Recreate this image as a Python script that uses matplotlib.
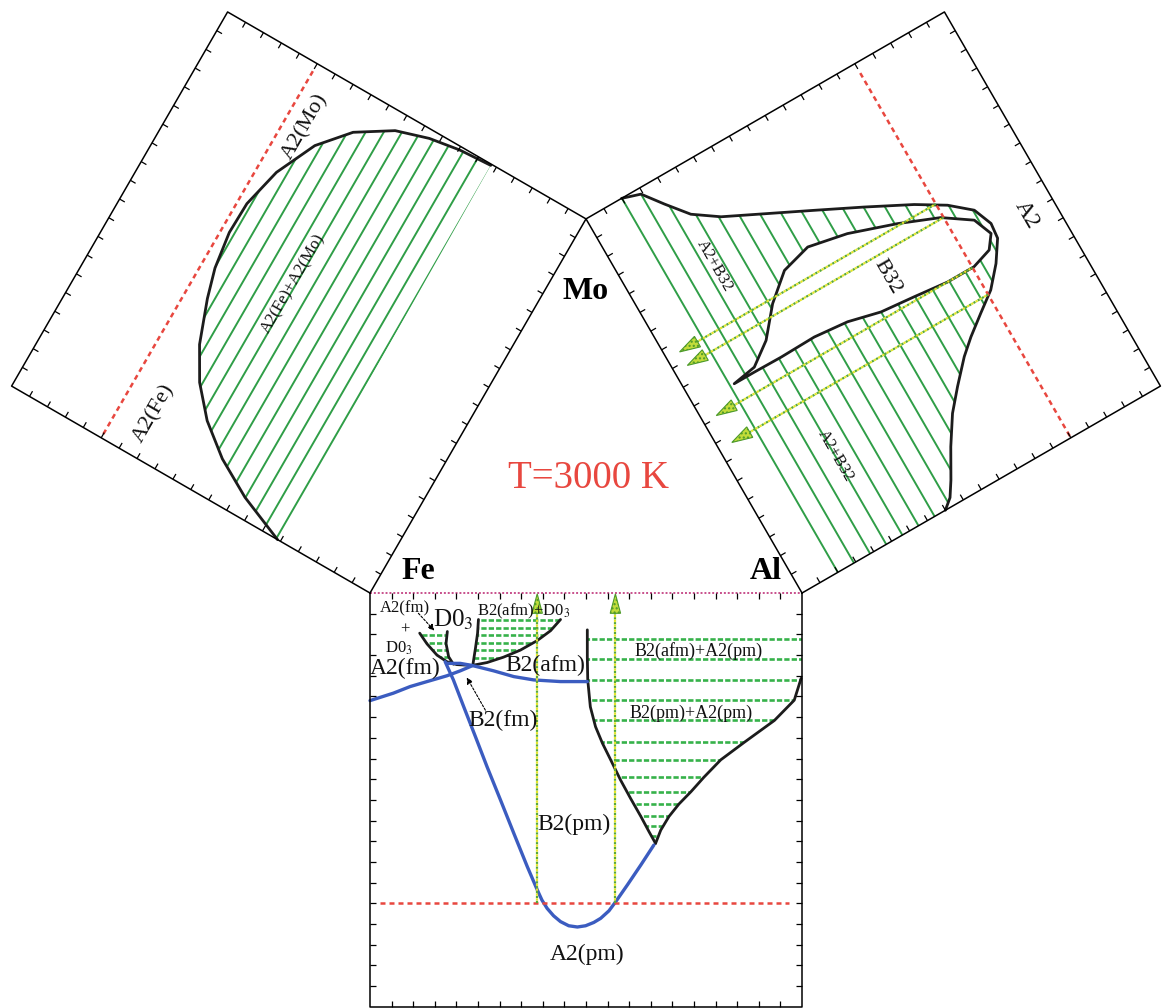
import numpy as np
import matplotlib.pyplot as plt
from matplotlib.transforms import Affine2D
from matplotlib.patches import Polygon
from matplotlib.collections import LineCollection

plt.rcParams['font.family'] = ['Liberation Serif', 'DejaVu Serif']
plt.rcParams['mathtext.fontset'] = 'stix'

# Each binary section: c = fraction along the triangle side, t = fraction of the T axis
# (T axis 0-4000 K, pointing away from the triangle). Isotherm of the section: 3000 K.
T_ISO = 0.75

# ---------- Fe-Al (bottom), c = x(Al) ----------
feal_fm_c = [0.0, 0.054, 0.093, 0.132, 0.178, 0.209, 0.236]
feal_fm_t = [0.260, 0.242, 0.226, 0.214, 0.200, 0.188, 0.176]
feal_afm_c = [0.179, 0.209, 0.236, 0.286, 0.333, 0.379, 0.441, 0.503]
feal_afm_t = [0.170, 0.170, 0.175, 0.188, 0.202, 0.210, 0.214, 0.214]
feal_ord_c = [0.174, 0.193, 0.217, 0.244, 0.271, 0.302, 0.333, 0.364, 0.387, 0.398, 0.410,
              0.425, 0.441, 0.460, 0.480, 0.499, 0.518, 0.534, 0.553, 0.568, 0.596, 0.627, 0.657]
feal_ord_t = [0.166, 0.210, 0.275, 0.347, 0.420, 0.500, 0.581, 0.661, 0.717, 0.742, 0.762,
              0.780, 0.794, 0.804, 0.807, 0.804, 0.796, 0.786, 0.768, 0.747, 0.705, 0.657, 0.609]
feal_d03_c = [0.115, 0.132, 0.155, 0.178, 0.201, 0.236, 0.271, 0.309, 0.348, 0.387, 0.418, 0.441]
feal_d03_t = [0.097, 0.123, 0.150, 0.166, 0.173, 0.175, 0.168, 0.155, 0.138, 0.115, 0.091, 0.064]
feal_d03lo_c = [0.179, 0.176, 0.182, 0.193]
feal_d03lo_t = [0.093, 0.122, 0.154, 0.172]
feal_d03hi_c = [0.251, 0.249, 0.244, 0.238]
feal_d03hi_t = [0.064, 0.097, 0.134, 0.174]
feal_b2_c = [0.503, 0.503, 0.504, 0.510, 0.522, 0.538, 0.557, 0.580, 0.603, 0.627, 0.646, 0.661]
feal_b2_t = [0.089, 0.154, 0.210, 0.275, 0.323, 0.363, 0.403, 0.452, 0.496, 0.540, 0.577, 0.605]
feal_a2_c = [0.998, 0.982, 0.936, 0.866, 0.812, 0.773, 0.743, 0.715, 0.692, 0.673, 0.661]
feal_a2_t = [0.206, 0.259, 0.308, 0.361, 0.403, 0.445, 0.480, 0.510, 0.540, 0.573, 0.605]
feal_tie_a = [0.101, 0.120, 0.138, 0.155]
feal_tie_b = [0.064, 0.084, 0.101, 0.120, 0.138, 0.156]
feal_tie_c = [0.110, 0.159, 0.209, 0.259, 0.308, 0.361, 0.403, 0.445, 0.480, 0.510, 0.538, 0.564, 0.586]
feal_arrow_c = [0.387, 0.568]

# ---------- Fe-Mo (left), c = x(Mo) ----------
femo_gap_c = [0.0, 0.047, 0.098, 0.157, 0.225, 0.301, 0.402, 0.472, 0.560, 0.638,
              0.735, 0.833, 0.904, 0.956, 0.980, 0.992, 0.997]
femo_gap_t = [0.258, 0.377, 0.471, 0.549, 0.611, 0.657, 0.696, 0.717, 0.730, 0.728,
              0.704, 0.656, 0.592, 0.506, 0.425, 0.347, 0.264]
femo_tie = [0.262, 0.300, 0.338, 0.376, 0.414, 0.452, 0.490, 0.528, 0.566, 0.604, 0.642, 0.680, 0.718]

# ---------- Al-Mo (right), c = x(Mo) ----------
almo_a2_c = [1.0, 0.986, 0.939, 0.888, 0.848, 0.804, 0.753, 0.702, 0.649, 0.609, 0.568, 0.522,
             0.485, 0.436, 0.389, 0.354, 0.318, 0.286, 0.234, 0.186, 0.121, 0.054, 0.020, 0.0]
almo_a2_t = [0.099, 0.145, 0.182, 0.225, 0.285, 0.379, 0.488, 0.596, 0.704, 0.773, 0.823, 0.842,
             0.838, 0.804, 0.761, 0.712, 0.663, 0.625, 0.575, 0.532, 0.488, 0.448, 0.425, 0.400]
almo_b32_c = [0.498, 0.508, 0.548, 0.614, 0.667, 0.687, 0.668, 0.630, 0.592, 0.548, 0.502,
              0.471, 0.455, 0.455, 0.464, 0.472, 0.491, 0.499, 0.497, 0.498]
almo_b32_t = [0.111, 0.173, 0.230, 0.288, 0.353, 0.430, 0.529, 0.646, 0.744, 0.811, 0.830,
              0.806, 0.754, 0.680, 0.593, 0.505, 0.423, 0.335, 0.241, 0.167]
almo_tie = [0.100, 0.145, 0.190, 0.235, 0.280, 0.325, 0.370, 0.415, 0.460, 0.505, 0.550,
            0.595, 0.640, 0.685, 0.730, 0.775, 0.820]
almo_arrow_c = [0.625, 0.589, 0.455, 0.383]

# labels: text, c, t, size
feal_labels = [("A2(fm)", 0.081, 0.037, 12), ("+", 0.081, 0.088, 12), ("D0$_3$", 0.066, 0.134, 12),
               ("D0$_3$", 0.192, 0.064, 18), ("B2(afm)+D0$_3$", 0.356, 0.045, 12),
               ("A2(fm)", 0.081, 0.182, 17), ("B2(afm)", 0.406, 0.174, 17),
               ("B2(fm)", 0.309, 0.307, 17), ("B2(pm)", 0.472, 0.560, 17),
               ("A2(pm)", 0.503, 0.874, 17), ("B2(afm)+A2(pm)", 0.760, 0.139, 13),
               ("B2(pm)+A2(pm)", 0.743, 0.291, 13)]
femo_labels = [("A2(Mo)", 0.860, 0.700, 16), ("A2(Fe)", 0.110, 0.670, 16),
               ("A2(Fe)+A2(Mo)", 0.532, 0.534, 12)]
almo_labels = [("A2", 0.499, 0.927, 17), ("B32", 0.535, 0.561, 16),
               ("A2+B32", 0.758, 0.212, 12), ("A2+B32", 0.237, 0.236, 12)]

BLACK = '#1c1c1c'
BLUE = '#3b5cc0'
GREEN = '#2f9e47'
LIGHT_GREEN = '#36b24a'
RED = '#e8473f'

SQ3 = np.sqrt(3) / 2
DEPTH = 0.958
TICKS = np.arange(1, 20) * 0.05
TL_C, TL_T = 0.014, 0.0145

fig = plt.figure(figsize=(11.63, 10.08), dpi=100)
ax = fig.add_axes([0, 0, 1, 1])
ax.set_xlim(-0.8565, 1.8356)
ax.set_ylim(-0.9606, 1.3727)
ax.axis('off')


def panel_tr(origin, u, n):
    m = np.array([[u[0], DEPTH * n[0], origin[0]],
                  [u[1], DEPTH * n[1], origin[1]],
                  [0.0, 0.0, 1.0]])
    return Affine2D(m) + ax.transData


tr_b = panel_tr((0.0, 0.0), (1.0, 0.0), (0.0, -1.0))
tr_l = panel_tr((0.0, 0.0), (0.5, SQ3), (-SQ3, 0.5))
tr_r = panel_tr((1.0, 0.0), (-0.5, SQ3), (SQ3, 0.5))


def draw_frame(tr, dotted_inner=False):
    if dotted_inner:
        ax.plot([0, 0, 1, 1], [0, 1, 1, 0], color='k', lw=1.1, transform=tr, zorder=6)
        ax.plot([0, 1], [0, 0], color='#c8508c', lw=1.4, ls=(0, (1, 1)), transform=tr, zorder=6)
    else:
        ax.plot([0, 1, 1, 0, 0], [0, 0, 1, 1, 0], color='k', lw=1.1, transform=tr, zorder=6)
    segs = []
    for v in TICKS:
        segs += [[(v, 0), (v, TL_T)], [(v, 1), (v, 1 - TL_T)],
                 [(0, v), (TL_C, v)], [(1, v), (1 - TL_C, v)]]
    ax.add_collection(LineCollection(segs, colors='k', linewidths=0.9, transform=tr, zorder=6),
                      autolim=False)


def draw_ties(tr, levels, clip_c, clip_t, **kw):
    clip = Polygon(np.column_stack([clip_c, clip_t]), closed=True, transform=tr)
    lc = LineCollection([[(0, v), (1, v)] for v in levels], transform=tr, zorder=1, **kw)
    ax.add_collection(lc, autolim=False)
    lc.set_clip_path(clip)


def draw_curve(tr, c, t, color, lw):
    ax.plot(c, t, color=color, lw=lw, transform=tr, zorder=3,
            solid_capstyle='round', solid_joinstyle='round')


def draw_arrow(tr, c, t_from, t_tip, hl, hw):
    ax.plot([c, c], [t_from, t_tip + hl], color='#5aa838', lw=1.6, ls=(0, (1, 1.2)),
            transform=tr, zorder=7)
    ax.plot([c, c], [t_from, t_tip + hl], color='#e4e62a', lw=1.6, ls=(1.1, (1, 1.2)),
            transform=tr, zorder=7)
    ax.add_patch(Polygon([(c, t_tip), (c - hw, t_tip + hl), (c + hw, t_tip + hl)], closed=True,
                         transform=tr, fc='#c2dc3a', ec='#4c9a2a', lw=0.8, hatch='....', zorder=8))


def draw_labels(tr, labels, rot):
    for s, c, t, fs in labels:
        ax.text(c, t, s, transform=tr, fontsize=fs, rotation=rot, rotation_mode='anchor',
                ha='center', va='center', color='#111111', zorder=9)


# ----- Fe-Al -----
draw_frame(tr_b, dotted_inner=True)
dotted_green = dict(colors=LIGHT_GREEN, linewidths=1.9, linestyles=[(0, (2, 0.8))])
draw_ties(tr_b, feal_tie_a,
          feal_d03_c[:4] + feal_d03lo_c[::-1], feal_d03_t[:4] + feal_d03lo_t[::-1], **dotted_green)
draw_ties(tr_b, feal_tie_b,
          feal_d03hi_c + feal_d03_c[5:] + [0.445, 0.251], feal_d03hi_t + feal_d03_t[5:] + [0.055, 0.055],
          **dotted_green)
draw_ties(tr_b, feal_tie_c,
          feal_b2_c + feal_a2_c[::-1] + [1.0, 1.0], feal_b2_t + feal_a2_t[::-1] + [0.206, 0.085],
          **dotted_green)
for cc, tt in [(feal_d03_c, feal_d03_t), (feal_d03lo_c, feal_d03lo_t), (feal_d03hi_c, feal_d03hi_t),
               (feal_b2_c, feal_b2_t), (feal_a2_c, feal_a2_t)]:
    draw_curve(tr_b, cc, tt, BLACK, 2.0)
for cc, tt in [(feal_fm_c, feal_fm_t), (feal_afm_c, feal_afm_t), (feal_ord_c, feal_ord_t)]:
    draw_curve(tr_b, cc, tt, BLUE, 2.4)
ax.plot([0.024, 0.970], [T_ISO, T_ISO], color=RED, lw=1.8, ls=(0, (2, 1.6)), transform=tr_b, zorder=4)
for c in feal_arrow_c:
    draw_arrow(tr_b, c, T_ISO, 0.002, 0.047, 0.012)
draw_labels(tr_b, feal_labels, 0)
for (c0, t0), (c1, t1) in [((0.112, 0.049), (0.149, 0.091)), ((0.267, 0.283), (0.224, 0.204))]:
    ax.annotate('', xy=(c1, t1), xycoords=tr_b, xytext=(c0, t0), textcoords=tr_b,
                arrowprops=dict(arrowstyle='-|>', ls=(0, (2, 1.5)), lw=0.8, color='k',
                                mutation_scale=9, shrinkA=0, shrinkB=0), zorder=9)

# ----- Fe-Mo -----
draw_frame(tr_l)
draw_ties(tr_l, femo_tie, femo_gap_c + [0.0], femo_gap_t + [0.255],
          colors=GREEN, linewidths=1.4)
draw_curve(tr_l, femo_gap_c, femo_gap_t, BLACK, 2.0)
ax.plot([0.010, 0.980], [T_ISO, T_ISO], color=RED, lw=1.8, ls=(0, (2, 1.6)), transform=tr_l, zorder=4)
draw_labels(tr_l, femo_labels, 60)

# ----- Al-Mo -----
draw_frame(tr_r)
draw_ties(tr_r, almo_tie, almo_a2_c + [0.0, 1.0], almo_a2_t + [0.095, 0.095],
          colors=GREEN, linewidths=1.4)
ax.add_patch(Polygon(np.column_stack([almo_b32_c, almo_b32_t]), closed=True, transform=tr_r,
                     fc='white', ec=BLACK, lw=2.0, joinstyle='round', zorder=2))
draw_curve(tr_r, almo_a2_c, almo_a2_t, BLACK, 2.0)
ax.plot([0.005, 0.980], [T_ISO, T_ISO], color=RED, lw=1.8, ls=(0, (2, 1.6)), transform=tr_r, zorder=4)
for c in almo_arrow_c:
    draw_arrow(tr_r, c, T_ISO, 0.035, 0.05, 0.014)
draw_labels(tr_r, almo_labels, -60)

# ----- ternary corner labels -----
ax.text(0.111, 0.049, "Fe", fontsize=23, fontweight='bold', ha='center', va='center')
ax.text(0.916, 0.050, "Al", fontsize=23, fontweight='bold', ha='center', va='center')
ax.text(0.499, 0.697, "Mo", fontsize=23, fontweight='bold', ha='center', va='center')
ax.text(0.506, 0.265, "T=3000 K", fontsize=28, color=RED, ha='center', va='center')

fig.savefig('out.png', dpi=100)
